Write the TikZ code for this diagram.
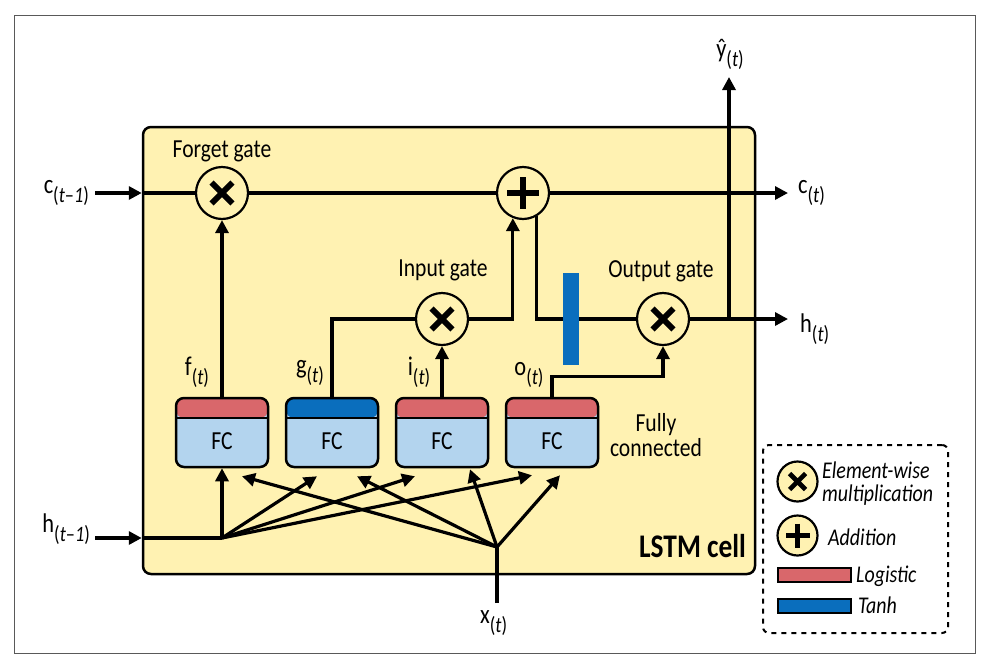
\documentclass[tikz,border=0pt]{standalone}
\usepackage{fontspec}
\setmainfont{Carlito}[FakeStretch=0.83]
\usetikzlibrary{positioning, arrows.meta, calc}
\definecolor{cellyellow}{HTML}{FFF2B2}
\definecolor{logred}{HTML}{D9676B}
\definecolor{tanhblue}{HTML}{0A6EBD}
\definecolor{fcblue}{HTML}{B3D4EE}
\newcommand{\tsub}[1]{\raisebox{-9pt}{\fontsize{22}{22}\selectfont(#1)}}
\tikzset{
    frame/.style={line width=1pt, gray!70!black},
    cell_box/.style={draw, line width=2.5pt, rounded corners=8pt, fill=cellyellow, minimum width=612pt, minimum height=447pt},
    wire/.style={line width=3.2pt},
    signal_arrow/.style={line width=3.2pt, -{Triangle[length=13pt, width=13pt]}},
    gate/.style={circle, draw, line width=2.2pt, fill=cellyellow, inner sep=0pt},
    mult/.style={gate, minimum size=#1, path picture={
        \draw[line width=0.115*#1]
            ($(path picture bounding box.center)!0.4!(path picture bounding box.north east)$) --
            ($(path picture bounding box.center)!0.4!(path picture bounding box.south west)$)
            ($(path picture bounding box.center)!0.4!(path picture bounding box.north west)$) --
            ($(path picture bounding box.center)!0.4!(path picture bounding box.south east)$);
    }},
    mult/.default=52pt,
    add/.style={gate, minimum size=#1, path picture={
        \draw[line width=0.125*#1]
            ($(path picture bounding box.center)!0.6!(path picture bounding box.east)$) --
            ($(path picture bounding box.center)!0.6!(path picture bounding box.west)$)
            ($(path picture bounding box.center)!0.6!(path picture bounding box.north)$) --
            ($(path picture bounding box.center)!0.6!(path picture bounding box.south)$);
    }},
    add/.default=52pt,
    fc_box/.style={draw, line width=2.5pt, rounded corners=8pt, fill=fcblue, minimum width=92pt, minimum height=69pt, path picture={
        \fill[#1] (path picture bounding box.north west) rectangle ([yshift=-20pt]path picture bounding box.north east);
        \draw[line width=2pt] ([yshift=-20pt]path picture bounding box.north west) -- ([yshift=-20pt]path picture bounding box.north east);
    }},
    tanh_bar/.style={fill=tanhblue, minimum width=16pt, minimum height=92pt, inner sep=0pt},
    key_bar/.style={draw, line width=1.5pt, fill=#1, minimum width=73pt, minimum height=14pt, inner sep=0pt},
    legend_box/.style={draw, line width=2pt, dash pattern=on 5pt off 5pt, rounded corners=6pt, minimum width=185pt, minimum height=188pt},
    gate label/.style={inner sep=0pt, anchor=base},
    var label/.style={inner sep=0pt, font=\fontsize{27}{27}\selectfont},
    key label/.style={inner sep=0pt, anchor=base west, font=\fontsize{24}{23}\selectfont\itshape}
}
\begin{document}
\begin{tikzpicture}[x=1pt, y=-1pt, font=\fontsize{26}{25}\selectfont]
      \useasboundingbox (0,0) rectangle (987,662);
      \draw[frame] (14,15) rectangle (975,653);

      % --- Cell ---
      \node (cell) [cell_box] at (449,350.5) {};
      \node (celltitle) [anchor=base east, inner sep=0pt, font=\fontsize{33}{33}\selectfont\bfseries] at (746,557) {LSTM cell};

      % --- Outside labels ---
      \node (cprev) [var label, anchor=base east] at (89,193) {c\tsub{\textit{t}–\textit{1}}};
      \node (hprev) [var label, anchor=base east] at (90,532) {h\tsub{\textit{t}–\textit{1}}};
      \node (cnext) [var label, anchor=base west] at (798,193) {c\tsub{\textit{t}}};
      \node (hnext) [var label, anchor=base west] at (800,332) {h\tsub{\textit{t}}};
      \node (yhat) [var label, anchor=base] at (730,57) {ŷ\tsub{\textit{t}}};
      \node (xin) [var label, anchor=base west] at (480,623) {x\tsub{\textit{t}}};

      \coordinate (hhub) at (222,538);
      \coordinate (xhub) at (497,547);
      \coordinate (ysplit) at (729,319);
      \coordinate (yout) at (729,77);
      \coordinate (cout) at (788,193);
      \coordinate (hout) at (788,319);

      % --- Wires ---
      \draw[signal_arrow] ([xshift=6pt]cprev.base east) -- (cell.west |- cprev.base);
      \draw[wire] (cell.west |- cprev.base) -- (523,193);
      \draw[signal_arrow] (523,193) -- (cout);
      \draw[signal_arrow] ([xshift=5pt]hprev.east |- hhub) -- (cell.west |- hhub);
      \draw[wire] (cell.west |- hhub) -- (hhub);
      \draw[wire] (xhub |- 0,603) -- (xhub);

      % --- Gates ---
      \node (forget) [mult] at (222,193) {};
      \node (plus) [add] at (523,193) {};
      \node (input) [mult] at (442,319) {};
      \node (output) [mult] at (663,319) {};
      \node[gate label] at (222,157) {Forget gate};
      \node[gate label] at (443,276) {Input gate};
      \node[gate label] at (661,277) {Output gate};

      % --- Fully connected layers ---
      \node (fcf) [fc_box=logred] at (222,432.5) {};
      \node (fcg) [fc_box=tanhblue] at (332,432.5) {};
      \node (fci) [fc_box=logred] at (442,432.5) {};
      \node (fco) [fc_box=logred] at (552,432.5) {};
      \node (fcftext) at ([yshift=-9pt]fcf.center) {FC};
      \node (fcgtext) at ([yshift=-9pt]fcg.center) {FC};
      \node (fcitext) at ([yshift=-9pt]fci.center) {FC};
      \node (fcotext) at ([yshift=-9pt]fco.center) {FC};
      \node[align=center, inner sep=0pt] at (656,435) {Fully\\connected};
      \node[var label, anchor=base] at (197,375) {f\tsub{\textit{t}}};
      \node[var label, anchor=base] at (310,373) {g\tsub{\textit{t}}};
      \node[var label, anchor=base] at (419,375) {i\tsub{\textit{t}}};
      \node[var label, anchor=base] at (529,375) {o\tsub{\textit{t}}};

      % --- Gate connections ---
      \draw[signal_arrow] (fcf.north) -- (forget.south);
      \draw[wire] (fcg.north) |- (input.west);
      \draw[signal_arrow] (fci.north) -- (input.south);
      \draw[signal_arrow] (input.east) -| (plus.-112);
      \draw[wire] (plus.-60) |- (output.west);
      \node (tanh) [tanh_bar] at (571,319) {};
      \draw[signal_arrow] (fco.north) -- ++(0,-20) -| (output.south);
      \draw[signal_arrow] (output.east) -- (hout);
      \draw[signal_arrow] (ysplit) -- (yout);

      % --- Inputs to FC layers ---
      \draw[signal_arrow] (hhub) -- (fcf.south);
      \draw[signal_arrow] (hhub) -- ($(fcg.south)+(-15,8)$);
      \draw[signal_arrow] (hhub) -- ($(fci.south)+(-27,8)$);
      \draw[signal_arrow] (hhub) -- ($(fco.south)+(-20,7)$);
      \draw[signal_arrow] (xhub) -- ($(fcf.south)+(20,8)$);
      \draw[signal_arrow] (xhub) -- ($(fcg.south)+(25,8)$);
      \draw[signal_arrow] (xhub) -- ($(fci.south)+(28,1)$);
      \draw[signal_arrow] (xhub) -- ($(fco.south)+(8,7)$);

      % --- Legend ---
      \node (legend) [legend_box] at (855.5,539) {};
      \node (keymult) [mult=40pt] at (797.5,481.5) {};
      \node (keyadd) [add=40pt] at (797.5,535.5) {};
      \node (keylog) [key_bar=logred] at (814.5,575) {};
      \node (keytanh) [key_bar=tanhblue] at (814.5,606) {};
      \node[key label, anchor=west, align=left] at (822,484) {Element-wise\\multiplication};
      \node[key label] at (828,545) {Addition};
      \node[key label] at (856,582) {Logistic};
      \node[key label] at (858,613) {Tanh};
\end{tikzpicture}
\end{document}
